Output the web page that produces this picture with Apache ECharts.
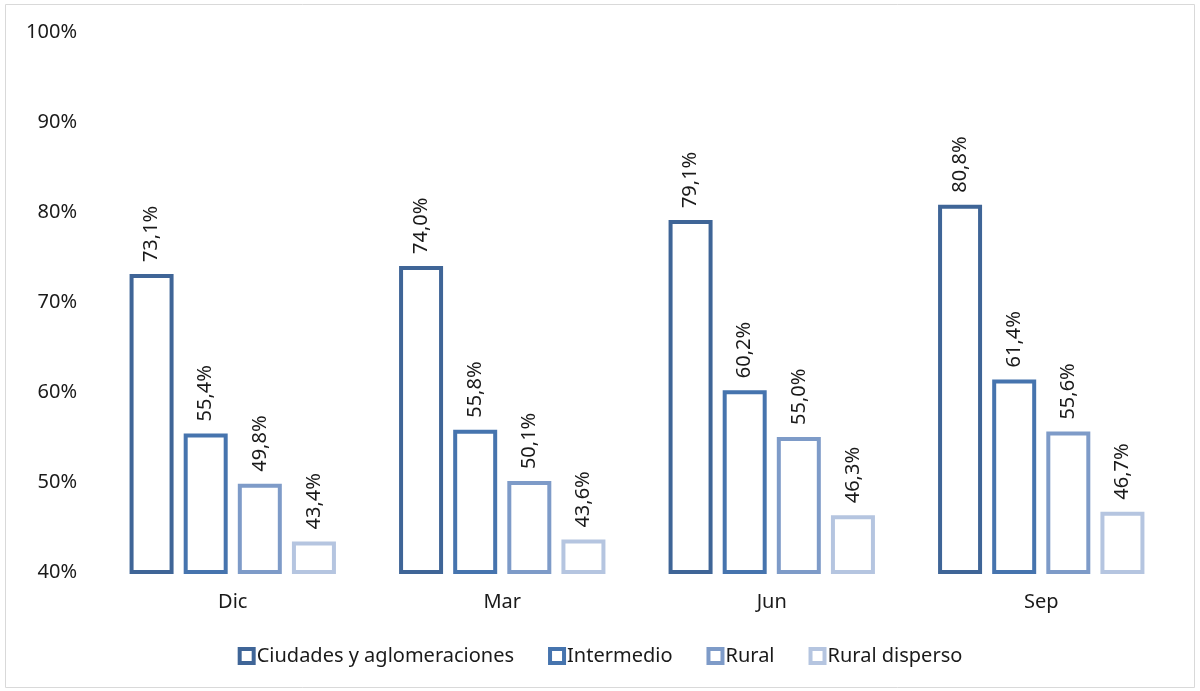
<!DOCTYPE html>
<html>
<head>
<meta charset="utf-8">
<script src="https://cdn.jsdelivr.net/npm/echarts@6/dist/echarts.min.js"></script>
<style>
html,body{margin:0;padding:0;background:#fff;}
#chart{width:1200px;height:691px;}
</style>
</head>
<body>
<div id="chart"></div>
<script>
// Quarterly shares by territory type
const categories = ['Dic', 'Mar', 'Jun', 'Sep'];
const seriesNames = ['Ciudades y aglomeraciones', 'Intermedio', 'Rural', 'Rural disperso'];
const ciudades = [73.1, 74.0, 79.1, 80.8];
const intermedio = [55.4, 55.8, 60.2, 61.4];
const rural = [49.8, 50.1, 55.0, 55.6];
const ruralDisperso = [43.4, 43.6, 46.3, 46.7];
const yTicks = [40, 50, 60, 70, 80, 90, 100];

const colors = ['#3F6597', '#4674AE', '#7E9BC8', '#B5C5E0'];
const values = [ciudades, intermedio, rural, ruralDisperso];
const font = 'Noto Sans';
const textColor = '#1a1a1a';

const chart = echarts.init(document.getElementById('chart'));

const series = seriesNames.map((name, i) => ({
  name: name,
  type: 'bar',
  data: values[i],
  barWidth: 44,
  barGap: '23%',
  itemStyle: { color: '#ffffff', borderColor: colors[i], borderWidth: 4 },
  emphasis: { disabled: true },
  label: {
    show: true,
    position: 'top',
    rotate: 90,
    align: 'left',
    verticalAlign: 'middle',
    distance: 12,
    fontFamily: font,
    fontSize: 20,
    color: textColor,
    formatter: p => p.value.toFixed(1).replace('.', ',') + '%'
  }
}));

chart.setOption({
  animation: false,
  graphic: [{
    type: 'rect',
    shape: { x: 5.5, y: 4.5, width: 1189, height: 683 },
    style: { fill: 'none', stroke: '#d9d9d9', lineWidth: 1 },
    silent: true
  }],
  grid: { left: 98, right: 24, top: 32, bottom: 119 },
  legend: {
    top: 641,
    left: 'center',
    itemWidth: 14,
    itemHeight: 14,
    itemGap: 34,
    icon: 'rect',
    textStyle: { fontFamily: font, fontSize: 20, color: textColor, padding: [0, 0, 0, -2] },
    data: seriesNames.map((n, i) => ({
      name: n,
      itemStyle: { color: '#ffffff', borderColor: colors[i], borderWidth: 4 }
    }))
  },
  xAxis: {
    type: 'category',
    data: categories,
    axisLine: { show: false },
    axisTick: { show: false },
    axisLabel: { fontFamily: font, fontSize: 20, color: textColor, margin: 20 }
  },
  yAxis: {
    type: 'value',
    min: yTicks[0],
    max: yTicks[yTicks.length - 1],
    interval: 10,
    splitLine: { show: false },
    axisLine: { show: false },
    axisTick: { show: false },
    axisLabel: { fontFamily: font, fontSize: 20, color: textColor, margin: 21, formatter: '{value}%' }
  },
  series: series
});
</script>
</body>
</html>
